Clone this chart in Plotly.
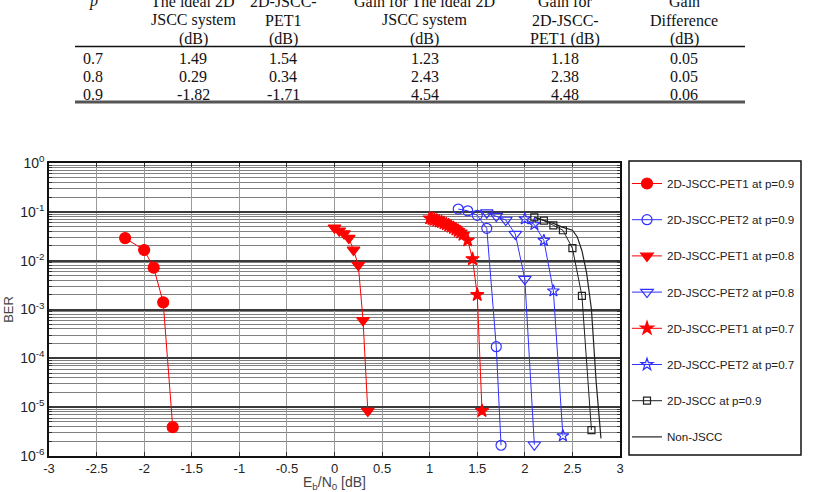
import plotly.graph_objects as go

# ---------------- data ----------------
pet1_09_x = [-2.2, -2.0, -1.9, -1.8, -1.7]
pet1_09_y = [0.029, 0.0165, 0.0072, 0.0014, 3.9e-6]

pet2_09_x = [1.3, 1.4, 1.5, 1.6, 1.7, 1.75]
pet2_09_y = [0.114, 0.105, 0.085, 0.046, 1.73e-4, 1.66e-6]

pet1_08_x = [0.0, 0.05, 0.1, 0.15, 0.2, 0.25, 0.3, 0.35]
pet1_08_y = [0.047, 0.041, 0.036, 0.029, 0.0166, 0.0081, 6.0e-4, 8.3e-6]

pet2_08_x = [1.6, 1.7, 1.8, 1.9, 2.0, 2.1]
pet2_08_y = [0.096, 0.082, 0.068, 0.035, 0.0042, 1.7e-6]

pet1_07_x = [1.0, 1.025, 1.05, 1.075, 1.1, 1.125, 1.15, 1.175, 1.2, 1.225,
             1.25, 1.275, 1.3, 1.325, 1.35, 1.4, 1.45, 1.5, 1.55]
pet1_07_y = [0.074, 0.072, 0.069, 0.067, 0.064, 0.062, 0.059, 0.056, 0.053, 0.050,
             0.047, 0.044, 0.041, 0.038, 0.034, 0.026, 0.0108, 0.0020, 8.4e-6]

pet2_07_x = [2.0, 2.1, 2.2, 2.3, 2.4]
pet2_07_y = [0.072, 0.055, 0.026, 0.0024, 2.6e-6]

jscc_09_x = [2.1, 2.2, 2.3, 2.4, 2.5, 2.6, 2.7]
jscc_09_y = [0.077, 0.066, 0.053, 0.042, 0.018, 0.0019, 3.4e-6]

non_x = [2.1, 2.2, 2.3, 2.4, 2.5, 2.55, 2.6, 2.65, 2.7, 2.75, 2.8]
non_y = [0.078, 0.068, 0.058, 0.048, 0.042, 0.031, 0.016, 0.0055, 1.0e-3, 3.2e-5, 2.3e-6]

x_ticks = [-3, -2.5, -2, -1.5, -1, -0.5, 0, 0.5, 1, 1.5, 2, 2.5, 3]
x_tick_labels = ["-3", "-2.5", "-2", "-1.5", "-1", "-0.5", "0", "0.5", "1", "1.5", "2", "2.5", "3"]
y_ticks = [1e-6, 1e-5, 1e-4, 1e-3, 1e-2, 1e-1, 1]
y_tick_labels = ["10<sup>-6</sup>", "10<sup>-5</sup>", "10<sup>-4</sup>", "10<sup>-3</sup>",
                 "10<sup>-2</sup>", "10<sup>-1</sup>", "10<sup>0</sup>"]

# table content
table_header = [
    ["<i>p</i>", "", ""],
    ["The ideal 2D", "JSCC system", "(dB)"],
    ["2D-JSCC-", "PET1", "(dB)"],
    ["Gain for The ideal 2D", "JSCC system", "(dB)"],
    ["Gain for", "2D-JSCC-", "PET1 (dB)"],
    ["Gain", "Difference", "(dB)"],
]
table_rows = [
    ["0.7", "1.49", "1.54", "1.23", "1.18", "0.05"],
    ["0.8", "0.29", "0.34", "2.43", "2.38", "0.05"],
    ["0.9", "-1.82", "-1.71", "4.54", "4.48", "0.06"],
]

RED = "#ff0000"
BLUE = "#3030ff"

fig = go.Figure()

def add(x, y, name, color, symbol, size, lw=1.0, mlw=1.2, mode="lines+markers"):
    fig.add_trace(go.Scatter(
        x=x, y=y, name=name, mode=mode, legendgroup=name,
        line=dict(color=color, width=lw),
        marker=dict(symbol=symbol, size=size, color=color,
                    line=dict(color=color, width=mlw)),
    ))

add(pet1_09_x, pet1_09_y, "2D-JSCC-PET1 at p=0.9", RED, "circle", 11)
add(pet2_09_x, pet2_09_y, "2D-JSCC-PET2 at p=0.9", BLUE, "circle-open", 10)
add(pet1_08_x, pet1_08_y, "2D-JSCC-PET1 at p=0.8", RED, "triangle-down", 11)
add(pet2_08_x, pet2_08_y, "2D-JSCC-PET2 at p=0.8", BLUE, "triangle-down-open", 11)
add(pet1_07_x, pet1_07_y, "2D-JSCC-PET1 at p=0.7", RED, "star", 10)
add(pet2_07_x, pet2_07_y, "2D-JSCC-PET2 at p=0.7", BLUE, "star-open", 9)
add(jscc_09_x, jscc_09_y, "2D-JSCC at p=0.9", "#222222", "square-open", 7)
fig.add_trace(go.Scatter(x=non_x, y=non_y, name="Non-JSCC", mode="lines",
                         legendgroup="Non-JSCC",
                         line=dict(color="#222222", width=1.2)))

# ---------------- layout ----------------
L, R, T, B = 49, 620, 163, 456
W, H = 815, 492

def px(xp):
    return (xp - L) / (R - L)

def py(yp):
    return (B - yp) / (B - T)

annotations = []
tfont = dict(family="Liberation Serif", size=16, color="#111111")
col_x = [93, 193, 283, 425, 565, 684]
head_y = [1, 20, 39]
for ci, lines in enumerate(table_header):
    for li, txt in enumerate(lines):
        if txt:
            annotations.append(dict(x=px(col_x[ci]), y=py(head_y[li]), xref="paper", yref="paper",
                                    text=txt, showarrow=False, font=tfont,
                                    xanchor="center", yanchor="middle"))
row_y = [58, 76, 94]
for ri, row in enumerate(table_rows):
    for ci, txt in enumerate(row):
        annotations.append(dict(x=px(col_x[ci]), y=py(row_y[ri]), xref="paper", yref="paper",
                                text=txt, showarrow=False, font=tfont,
                                xanchor="center", yanchor="middle"))

shapes = [
    dict(type="line", xref="paper", yref="paper", x0=px(75), x1=px(745), y0=py(46.5), y1=py(46.5),
         line=dict(color="#111111", width=1.3)),
    dict(type="line", xref="paper", yref="paper", x0=px(75), x1=px(745), y0=py(102), y1=py(102),
         line=dict(color="#555555", width=3)),
    # legend frame
    dict(type="rect", xref="paper", yref="paper", x0=px(629), x1=px(801), y0=py(455), y1=py(161),
         line=dict(color="#111111", width=1.5), fillcolor="white"),
]

minor_vals = [k * 10.0 ** n for n in range(-6, 0) for k in range(2, 10)]

fig.update_layout(
    width=W, height=H,
    margin=dict(l=L, r=W - R, t=T, b=H - B, autoexpand=False),
    paper_bgcolor="white", plot_bgcolor="white",
    font=dict(family="Liberation Sans", size=13, color="#222222"),
    showlegend=True,
    legend=dict(
        x=px(627), y=py(169), xanchor="left", yanchor="top",
        bgcolor="rgba(0,0,0,0)", borderwidth=0,
        font=dict(family="Liberation Sans", size=11.6, color="#222222"),
        tracegroupgap=17.2, itemsizing="trace", maxheight=420,
    ),
    annotations=annotations,
    shapes=shapes,
    xaxis=dict(
        range=[-3, 3], tickvals=x_ticks, ticktext=x_tick_labels,
        showgrid=True, gridcolor="#9a9a9a", gridwidth=1,
        showline=True, linecolor="#111111", linewidth=1.5, mirror="ticks",
        ticks="inside", ticklen=4, tickcolor="#333333", zeroline=False,
        tickfont=dict(size=13, color="#222222"), automargin=False,
        title=dict(text="E<sub>b</sub>/N<sub>0</sub> [dB]", font=dict(size=14, color="#444444"), standoff=8),
    ),
    yaxis=dict(
        type="log", range=[-6, 0], tickvals=y_ticks, ticktext=y_tick_labels,
        showgrid=True, gridcolor="#3a3a3a", gridwidth=1.5,
        showline=True, linecolor="#111111", linewidth=1.5, mirror="ticks",
        ticks="inside", ticklen=4, tickcolor="#333333", zeroline=False,
        tickfont=dict(size=14, color="#222222"), automargin=False,
        title=dict(text="BER", font=dict(size=13, color="#444444"), standoff=4),
        minor=dict(tickvals=minor_vals, showgrid=True, gridcolor="#808080", gridwidth=1,
                   ticks="inside", ticklen=3, tickcolor="#333333"),
    ),
)

fig.write_html("out.html")
